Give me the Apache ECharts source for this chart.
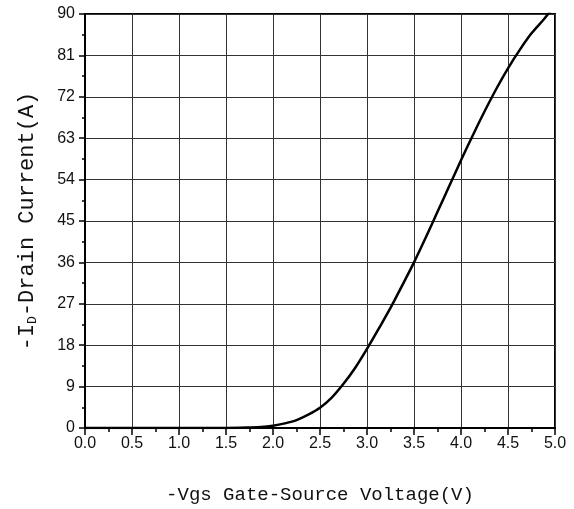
<!DOCTYPE html>
<html>
<head>
<meta charset="utf-8">
<script src="https://cdn.jsdelivr.net/npm/echarts@6/dist/echarts.min.js"></script>
<style>html,body{margin:0;padding:0;background:#fff;}#c{width:574px;height:509px;}</style>
</head>
<body>
<div id="c"></div>
<script>
var vgs = [0.0, 0.5, 1.0, 1.5, 1.75, 1.875, 2.0, 2.125, 2.25, 2.375, 2.5, 2.625, 2.75, 2.875, 3.0, 3.125, 3.25, 3.375, 3.5, 3.625, 3.75, 3.875, 4.0, 4.125, 4.25, 4.375, 4.5, 4.625, 4.75, 4.875, 4.95];
var idCurrent = [0, 0, 0, 0, 0.1, 0.2, 0.5, 1.0, 1.7, 2.9, 4.4, 6.6, 9.6, 13.1, 17.2, 21.6, 26.1, 31.0, 36.0, 41.4, 47.0, 52.6, 58.2, 63.6, 68.8, 73.7, 78.2, 82.2, 85.8, 88.7, 90.6];
var xTicks = {min: 0, max: 5, interval: 0.5};
var yTicks = {min: 0, max: 90, interval: 9};

var chart = echarts.init(document.getElementById('c'), null, {renderer: 'canvas'});
var lab = {color: '#111', fontFamily: 'Liberation Sans', fontSize: 16};
var pts = vgs.map(function (v, i) { return [v, idCurrent[i]]; });
chart.setOption({
  animation: false,
  backgroundColor: '#fff',
  grid: {left: 85, right: 19, top: 14, bottom: 76, show: true, borderColor: '#000', borderWidth: 2},
  xAxis: {
    type: 'value', min: xTicks.min, max: xTicks.max, interval: xTicks.interval,
    name: '-Vgs Gate-Source Voltage(V)', nameLocation: 'middle', nameGap: 57,
    nameTextStyle: {fontFamily: 'Liberation Mono', fontSize: 19, color: '#111'},
    axisLine: {show: true, lineStyle: {color: '#000', width: 2}},
    axisTick: {show: true, inside: false, length: 7, lineStyle: {color: '#000', width: 1.5}},
    minorTick: {show: true, splitNumber: 2, length: 4, lineStyle: {color: '#000', width: 1.5}},
    axisLabel: Object.assign({margin: 8, formatter: function (v) { return v.toFixed(1); }}, lab),
    splitLine: {show: true, lineStyle: {color: '#333', width: 1}}
  },
  yAxis: {
    type: 'value', min: yTicks.min, max: yTicks.max, interval: yTicks.interval,
    name: '-I{d|D}-Drain Current(A)', nameLocation: 'middle', nameGap: 46,
    nameTextStyle: {fontFamily: 'Liberation Mono', fontSize: 22, color: '#111',
      rich: {d: {fontFamily: 'Liberation Mono', fontSize: 13, color: '#111', verticalAlign: 'bottom', padding: [11, 0, 0, 0]}}},
    axisLine: {show: true, lineStyle: {color: '#000', width: 2}},
    axisTick: {show: true, inside: false, length: 6, lineStyle: {color: '#000', width: 1.5}},
    minorTick: {show: true, splitNumber: 2, length: 3, lineStyle: {color: '#000', width: 1.5}},
    axisLabel: Object.assign({margin: 10}, lab),
    splitLine: {show: true, lineStyle: {color: '#333', width: 1}}
  },
  series: [{
    type: 'line', data: pts, smooth: 0.3, showSymbol: false,
    lineStyle: {color: '#000', width: 2.5}, clip: true
  }]
});
</script>
</body>
</html>
